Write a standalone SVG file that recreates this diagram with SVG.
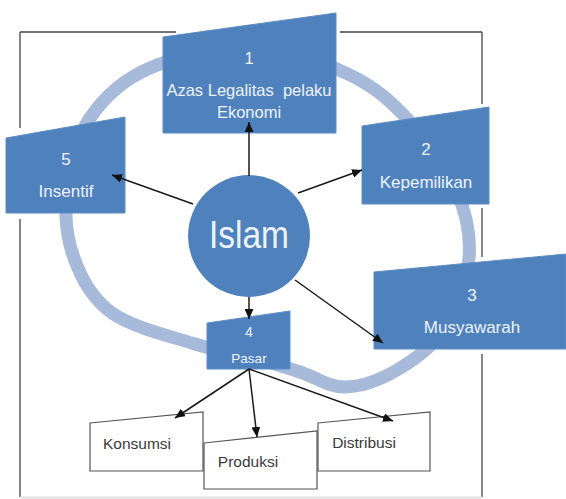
<svg xmlns="http://www.w3.org/2000/svg" width="566" height="499" viewBox="0 0 566 499">
  <defs>
    <marker id="ah" markerUnits="userSpaceOnUse" markerWidth="11" markerHeight="9" refX="10" refY="4.5" orient="auto">
      <path d="M0,0 L10,4.5 L0,9 z" fill="#111"/>
    </marker>
  </defs>
  <style>
    .frame{stroke:#444;stroke-width:1.3;fill:none}
    .ring{fill:none;stroke:#a8bad9;stroke-width:13}
    .box{fill:#4f81bd;stroke:#5d8dc6;stroke-width:1}
    .wbox{fill:#fff;stroke:#555;stroke-width:1.2}
    .lt{font-family:"Liberation Sans",Arial,sans-serif;fill:#eef3fa;text-anchor:middle}
    .dt{font-family:"Liberation Sans",Arial,sans-serif;fill:#3a3a3a;text-anchor:middle;font-size:15.5px}
    .conn line{stroke:#1a1a1a;stroke-width:1.5;marker-end:url(#ah)}
  </style>
  <rect width="566" height="499" fill="#fff"/>
  <g id="frame">
    <path class="frame" d="M20,32 H176 M340,32 H482 M20,32 V128 M20,219 V497 M482,32 V104 M482,208 V257 M482,354 V497"/>
    <path d="M20,497.5 H482" stroke="#e2e2e2" stroke-width="2" fill="none"/>
  </g>
  <g id="ring">
    <path class="ring" d="M255,48 C288.3,49.2 324.2,62.7 350,75 C375.8,87.3 392.2,102.5 410,122 C427.8,141.5 447.2,169.3 457,192 C466.8,214.7 471,235.3 469,258 C467,280.7 457,309.3 445,328 C433,346.7 413.7,360.2 397,370 C380.3,379.8 361.2,386.7 345,387 C328.8,387.3 315.8,377 300,372 C284.2,367 267.5,361.7 250,357 C232.5,352.3 218,351.3 195,344 C172,336.7 132.2,327.3 112,313 C91.8,298.7 81.5,278.5 74,258 C66.5,237.5 64.3,213.3 67,190 C69.7,166.7 76.2,138.3 90,118 C103.8,97.7 122.5,79.7 150,68 C177.5,56.3 221.7,46.8 255,48 Z"/>
  </g>
  <g id="node1">
    <polygon class="box" points="163,37 336,13 336,133 163,133"/>
    <text class="lt" x="249" y="64" font-size="16.5">1</text>
    <text class="lt" x="249" y="96" font-size="16.5" xml:space="preserve">Azas Legalitas  pelaku</text>
    <text class="lt" x="249" y="118" font-size="16.5">Ekonomi</text>
  </g>
  <g id="node2">
    <polygon class="box" points="362,126 489,107 489,204 362,204"/>
    <text class="lt" x="426" y="155" font-size="17">2</text>
    <text class="lt" x="426" y="188" font-size="17">Kepemilikan</text>
  </g>
  <g id="node3">
    <polygon class="box" points="374,272 566,254 566,349 374,349"/>
    <text class="lt" x="472" y="301" font-size="17">3</text>
    <text class="lt" x="472" y="333" font-size="17">Musyawarah</text>
  </g>
  <g id="node4">
    <polygon class="box" points="207,323 290,311 290,369 207,369"/>
    <text class="lt" x="249" y="337" font-size="14">4</text>
    <text class="lt" x="249" y="363" font-size="13.5">Pasar</text>
  </g>
  <g id="node5">
    <polygon class="box" points="6,138 125,117 125,213 6,213"/>
    <text class="lt" x="66" y="165" font-size="17">5</text>
    <text class="lt" x="66" y="197" font-size="17">Insentif</text>
  </g>
  <g id="islam">
    <circle cx="249" cy="236" r="61" fill="#4f81bd"/>
    <text class="lt" x="249" y="248" font-size="38" textLength="80" lengthAdjust="spacingAndGlyphs">Islam</text>
  </g>
  <g id="konsumsi">
    <polygon class="wbox" points="90,423 203,412 203,471 90,471"/>
    <text class="dt" x="137" y="449">Konsumsi</text>
  </g>
  <g id="distribusi">
    <polygon class="wbox" points="318,423 430,412 430,471 318,471"/>
    <text class="dt" x="364" y="448">Distribusi</text>
  </g>
  <g id="produksi">
    <polygon class="wbox" points="204,443 317,431 317,489 204,489"/>
    <text class="dt" x="248" y="467">Produksi</text>
  </g>
  <g id="connectors" class="conn">
    <line x1="249" y1="176" x2="249" y2="122"/>
    <line x1="193" y1="204" x2="112" y2="175"/>
    <line x1="298" y1="193" x2="362" y2="170"/>
    <line x1="295" y1="280" x2="383" y2="343"/>
    <line x1="249" y1="297" x2="249" y2="319"/>
    <line x1="249" y1="369" x2="175" y2="418"/>
    <line x1="249" y1="369" x2="257" y2="437"/>
    <line x1="249" y1="369" x2="393" y2="421"/>
  </g>
</svg>
